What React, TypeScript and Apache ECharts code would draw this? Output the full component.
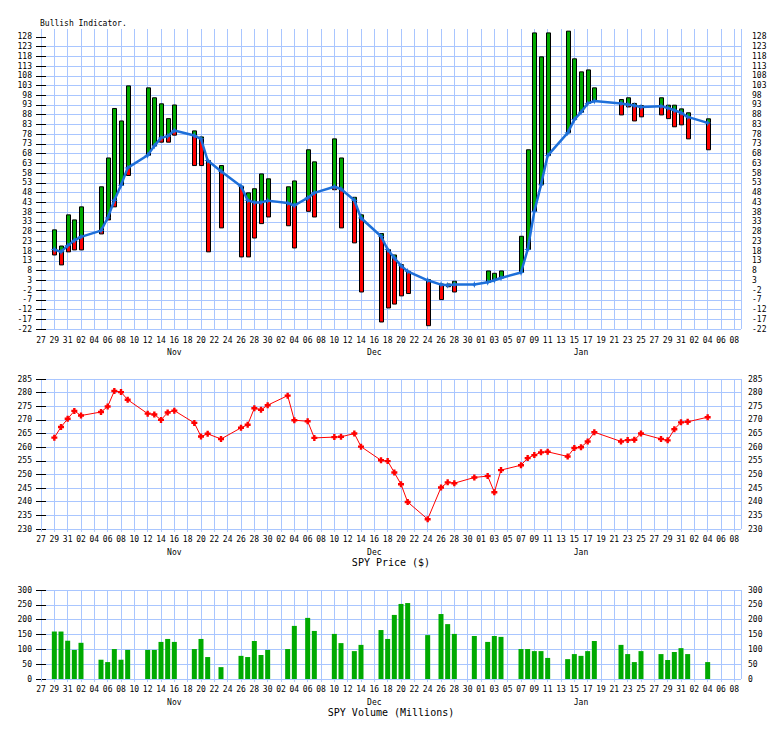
import React, { useEffect, useRef } from 'react';
import * as echarts from 'echarts';

// ---------- data ----------
const axisStart = '2018-10-27';
const axisEnd = '2019-02-09';

const dates = [
  '2018-10-29', '2018-10-30', '2018-10-31', '2018-11-01', '2018-11-02', '2018-11-05', '2018-11-06', '2018-11-07', '2018-11-08', '2018-11-09',
  '2018-11-12', '2018-11-13', '2018-11-14', '2018-11-15', '2018-11-16',
  '2018-11-19', '2018-11-20', '2018-11-21', '2018-11-23',
  '2018-11-26', '2018-11-27', '2018-11-28', '2018-11-29', '2018-11-30',
  '2018-12-03', '2018-12-04', '2018-12-06', '2018-12-07',
  '2018-12-10', '2018-12-11', '2018-12-13', '2018-12-14',
  '2018-12-17', '2018-12-18', '2018-12-19', '2018-12-20', '2018-12-21',
  '2018-12-24', '2018-12-26', '2018-12-27', '2018-12-28',
  '2018-12-31',
  '2019-01-02', '2019-01-03', '2019-01-04',
  '2019-01-07', '2019-01-08', '2019-01-09', '2019-01-10', '2019-01-11',
  '2019-01-14', '2019-01-15', '2019-01-16', '2019-01-17', '2019-01-18',
  '2019-01-22', '2019-01-23', '2019-01-24', '2019-01-25',
  '2019-01-28', '2019-01-29', '2019-01-30', '2019-01-31', '2019-02-01',
  '2019-02-04',
];

// Bullish indicator: line value, top of bar, bottom of bar
const indLine = [
  18.8, 17.6, 20.8, 23.5, 25.3, 28.5, 35, 44.1, 51.8, 60.7,
  67.2, 72, 76.1, 77, 79.9,
  77.3, 75.6, 64.5, 59,
  51.3, 44.1, 43, 43, 43.9,
  42.7, 41.4, 45.3, 47.9,
  51, 49.9, 44.1, 35,
  25.6, 18.8, 14.5, 10.5, 7.6,
  3, 0.8, 0.4, 0.8,
  0.8,
  2, 3, 4.2,
  7, 18.8, 38.4, 52, 67,
  78.7, 85.5, 89.3, 93.8, 95,
  93.8, 93.2, 92.7, 92,
  92.4, 91.5, 90.3, 89, 86.9,
  83.8,
];
const indHigh = [
  28.9, 20.6, 36.6, 34, 40.7, 51, 65.8, 91.2, 84.8, 102.8,
  101.8, 96.7, 93.6, 86, 93,
  79.7, 76.6, 64.5, 61.9,
  51.3, 47.9, 50, 57.6, 55.1,
  51, 54, 70, 63.8,
  75.6, 65.8, 45.6, 36.6,
  27, 18.8, 16, 11, 7.6,
  3.3, 1.1, 1.1, 2.5,
  0.8,
  7.8, 6.6, 7.8,
  25.6, 70, 130, 117.7, 130,
  130.9, 116.7, 110, 111, 101.8,
  95.8, 96.7, 93.8, 92.7,
  96.7, 92.9, 92.9, 91, 89,
  85.9,
];
const indLow = [
  16, 10.9, 17.6, 18.6, 18.6, 26.8, 34, 40.7, 51.8, 56.8,
  67.2, 72, 73.9, 73.9, 77.5,
  61.9, 61.9, 17.6, 29.9,
  15, 15, 24.7, 32.1, 35.5,
  31, 19.6, 38.4, 35.5,
  49.5, 29.9, 22.2, -3,
  -18.4, -11.2, -9.2, -5, -3.8,
  -20.3, -6.9, -0.3, -3,
  0.8,
  2, 3, 4.2,
  7, 18.8, 38.4, 52, 67,
  78.7, 85.5, 89.3, 93.8, 95,
  87.9, 92, 84.8, 86.9,
  87.9, 86, 81.8, 82.8, 75.6,
  70,
];

const spyPrice = [
  263.5, 267.4, 270.4, 273.3, 271.6, 272.9, 274.9, 280.6, 280.2, 277.4,
  272.3, 272.0, 270.0, 272.7, 273.4,
  268.9, 263.9, 264.9, 263.0,
  267.1, 268.2, 274.3, 273.7, 275.4,
  278.9, 269.9, 269.5, 263.4,
  263.7, 263.8, 265.0, 260.2,
  255.2, 254.9, 250.7, 246.4, 239.9,
  233.6, 245.2, 247.1, 246.8,
  248.9,
  249.4, 243.5, 251.6,
  253.4, 256.0, 257.1, 258.1, 258.3,
  256.6, 259.7, 260.0, 262.1, 265.5,
  262.1, 262.6, 262.7, 265.0,
  263.0, 262.5, 266.6, 269.1, 269.3,
  271.0,
];

const spyVolume = [
  160, 160, 129, 98, 122, 65, 57, 101, 65, 98,
  98, 98, 125, 135, 125,
  101, 135, 74, 40,
  78, 74, 128, 81, 98,
  101, 179, 206, 162,
  152, 121, 94, 115,
  165, 135, 216, 253, 256,
  148, 219, 185, 152,
  145,
  125, 145, 142,
  101, 101, 94, 94, 71,
  67, 84, 78, 94, 128,
  115, 84, 57, 94,
  84, 64, 91, 104, 84,
  57,
];

const indicatorTicks = [-22, -17, -12, -7, -2, 3, 8, 13, 18, 23, 28, 33, 38, 43, 48, 53, 58, 63, 68, 73, 78, 83, 88, 93, 98, 103, 108, 113, 118, 123, 128];
const priceTicks = [230, 235, 240, 245, 250, 255, 260, 265, 270, 275, 280, 285];
const volumeTicks = [0, 50, 100, 150, 200, 250, 300];
const monthLabelDates = ['2018-11-16', '2018-12-16', '2019-01-16'];
const monthNames = ['Jan', 'Feb', 'Mar', 'Apr', 'May', 'Jun', 'Jul', 'Aug', 'Sep', 'Oct', 'Nov', 'Dec'];

// ---------- helpers ----------
function toUTC(s: string) {
  const [y, m, d] = s.split('-').map(Number);
  return Date.UTC(y, m - 1, d);
}
const baseMs = toUTC(axisStart);
function dayIndex(s: string) {
  return Math.round((toUTC(s) - baseMs) / 86400000);
}
function dayDate(v: number) {
  return new Date(baseMs + Math.round(v) * 86400000);
}
const maxDay = dayIndex(axisEnd);

const GRIDC = '#a9c6ff';
const GREEN = '#00aa00';
const RED = '#ff0000';
const BLUE = '#1d6fd9';
const FONT = '"DejaVu Sans Mono", "Liberation Mono", monospace';

const fmtDay = (v: number) => String(dayDate(v).getUTCDate()).padStart(2, '0');
const fmtMonth = (v: number) => monthNames[dayDate(v).getUTCMonth()];

export default function App() {
  const ref = useRef<HTMLDivElement>(null);

  useEffect(() => {
    if (!ref.current) return;
    const chart = echarts.init(ref.current, null, { renderer: 'svg' });

    const grids = [
      { left: 41, top: 29, width: 700, height: 300 },
      { left: 41, top: 379, width: 700, height: 150 },
      { left: 41, top: 590, width: 700, height: 89 },
    ];

    const labelStyle = { fontFamily: FONT, fontSize: 8, color: '#000' };
    const monthDays = monthLabelDates.map(dayIndex);

    const xAxes: any[] = [];
    const names = ['', 'SPY Price ($)', 'SPY Volume (Millions)'];
    const dayMargins = [7, 6, 6];
    grids.forEach((_, i) => {
      xAxes.push({
        type: 'value', gridIndex: i, min: 0, max: maxDay, interval: 2, position: 'bottom',
        axisLine: { show: false },
        axisTick: { show: true, length: 3, lineStyle: { color: GRIDC } },
        axisLabel: { ...labelStyle, formatter: fmtDay, margin: dayMargins[i], showMinLabel: true, showMaxLabel: false },
        splitLine: { show: true, lineStyle: { color: GRIDC, width: 1 } },
        name: names[i], nameLocation: 'middle', nameGap: 28,
        nameTextStyle: { fontFamily: FONT, fontSize: 10, lineHeight: 10, color: '#000' },
      });
      xAxes.push({
        type: 'value', gridIndex: i, min: 0, max: maxDay, position: 'bottom',
        axisLine: { show: false }, axisTick: { show: false }, splitLine: { show: false },
        axisLabel: { ...labelStyle, lineHeight: 8, formatter: fmtMonth, margin: 19, customValues: monthDays },
      });
    });

    const yDefs = [
      { min: -22, max: 132, interval: 5, ticks: indicatorTicks, rm: 11 },
      { min: 230, max: 285, interval: 5, ticks: priceTicks, rm: 7 },
      { min: 0, max: 300, interval: 50, ticks: volumeTicks, rm: 7 },
    ];
    const yAxes: any[] = [];
    yDefs.forEach((d, i) => {
      const common = {
        type: 'value', gridIndex: i, min: d.min, max: d.max, interval: d.interval,
        axisLine: { show: false },
        axisTick: { show: true, length: 5, lineStyle: { color: '#000' }, customValues: d.ticks },
      };
      const lbl = {
        ...labelStyle, lineHeight: 5, padding: [0, 0, 4, 0], customValues: d.ticks,
        showMinLabel: true, showMaxLabel: true,
      };
      yAxes.push({
        ...common, position: 'left',
        axisLabel: { ...lbl, margin: 9 },
        splitLine: { show: true, showMaxLine: i !== 0, lineStyle: { color: GRIDC, width: 1 } },
      });
      yAxes.push({
        ...common, position: 'right',
        axisLabel: { ...lbl, margin: d.rm },
        splitLine: { show: false },
      });
    });

    const indData = dates.map((s, i) => [dayIndex(s), indLow[i], indLine[i], indHigh[i]]);
    const lineData = dates.map((s, i) => [dayIndex(s), indLine[i]]);
    const priceData = dates.map((s, i) => [dayIndex(s), spyPrice[i]]);
    const volData = dates.map((s, i) => [dayIndex(s), spyVolume[i]]);

    const renderBar = (params: any, api: any) => {
      const x = api.value(0);
      const lo = api.value(1);
      const mid = api.value(2);
      const hi = api.value(3);
      const pMid = api.coord([x, mid]);
      const pHi = api.coord([x, hi]);
      const pLo = api.coord([x, lo]);
      const w = 4;
      const left = Math.round(pMid[0] - w / 2) + 0.5;
      const children: any[] = [];
      if (hi > mid) {
        children.push({
          type: 'rect',
          shape: { x: left, y: pHi[1], width: w, height: pMid[1] - pHi[1] },
          style: { fill: GREEN, stroke: '#000', lineWidth: 1 },
        });
      }
      if (lo < mid) {
        children.push({
          type: 'rect',
          shape: { x: left, y: pMid[1], width: w, height: pLo[1] - pMid[1] },
          style: { fill: RED, stroke: '#000', lineWidth: 1 },
        });
      }
      return { type: 'group', children };
    };

    chart.setOption({
      animation: false,
      backgroundColor: '#fff',
      grid: grids,
      xAxis: xAxes,
      yAxis: yAxes,
      graphic: [
        {
          type: 'text', left: 40, top: 19,
          style: { text: 'Bullish Indicator.', font: '8px ' + FONT, fill: '#000' },
        },
      ],
      series: [
        {
          type: 'custom', name: 'Bullish range', xAxisIndex: 0, yAxisIndex: 0,
          renderItem: renderBar, data: indData, encode: { x: 0, y: [1, 2, 3] }, z: 2,
        },
        {
          type: 'line', name: 'Bullish Indicator', xAxisIndex: 0, yAxisIndex: 0, data: lineData,
          lineStyle: { color: BLUE, width: 2.5 }, itemStyle: { color: BLUE },
          symbol: 'path://M5,0L6.3,3.7L10,5L6.3,6.3L5,10L3.7,6.3L0,5L3.7,3.7Z', symbolSize: 7, z: 3,
        },
        {
          type: 'line', name: 'SPY Price', xAxisIndex: 2, yAxisIndex: 2, data: priceData,
          lineStyle: { color: RED, width: 1 }, itemStyle: { color: RED },
          symbol: 'path://M3,0H7V3H10V7H7V10H3V7H0V3H3Z', symbolSize: 6, z: 3,
        },
        {
          type: 'bar', name: 'SPY Volume', xAxisIndex: 4, yAxisIndex: 4, data: volData,
          barWidth: 5, itemStyle: { color: GREEN }, z: 3,
        },
      ],
    });

    return () => chart.dispose();
  }, []);

  return (
    <div
      ref={ref}
      style={{ position: 'absolute', left: 0, top: 0, width: 784, height: 729, background: '#fff' }}
    />
  );
}
